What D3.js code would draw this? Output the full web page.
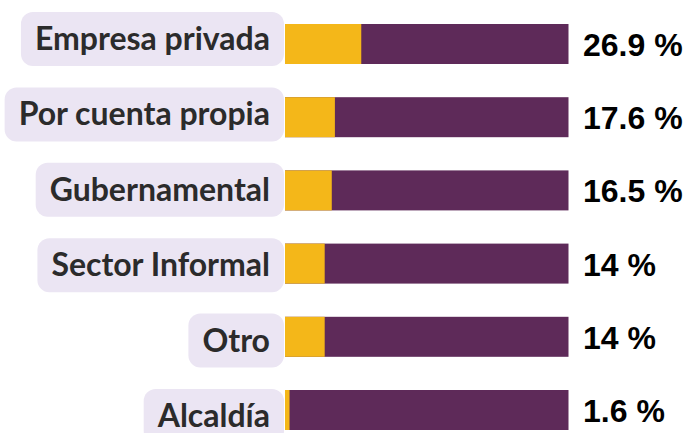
<!DOCTYPE html>
<html>
<head>
<meta charset="utf-8">
<script src="https://cdn.jsdelivr.net/npm/d3@7"></script>
<style>
  html, body { margin: 0; padding: 0; background: #ffffff; }
  svg { display: block; }
</style>
</head>
<body>
<div id="chart"></div>
<script>
// ---- data ----
const categories = ["Empresa privada", "Por cuenta propia", "Gubernamental", "Sector Informal", "Otro", "Alcaldía"];
const values = [26.9, 17.6, 16.5, 14, 14, 1.6];
const valueLabels = ["26.9 %", "17.6 %", "16.5 %", "14 %", "14 %", "1.6 %"];
const total = 100;

// ---- layout ----
const W = 688, H = 433;
const svg = d3.select("#chart").append("svg").attr("width", W).attr("height", H);

const x = d3.scaleLinear().domain([0, total]).range([285, 568.5]);
const y = d3.scaleBand().domain(categories).range([24, 430]).paddingInner(0.4536).paddingOuter(0);
const yLab = d3.scaleBand().domain(categories).range([12, 443]).paddingInner(0.284).paddingOuter(0);

const yellow = "#F4B719", purple = "#5E2A59", pill = "#EBE5F3", labelColor = "#2B2B2B";

const rows = svg.selectAll("g.row").data(categories).join("g").attr("class", "row");

// category label pills (drawn first so bars sit on top)
const labelRight = 270;
const pills = rows.append("rect").attr("class", "pill");
const labels = rows.append("text")
  .attr("x", labelRight)
  .attr("y", d => yLab(d) + 38)
  .attr("text-anchor", "end")
  .attr("font-family", "Lato, 'Noto Sans', sans-serif")
  .attr("font-weight", 700)
  .attr("font-size", 32)
  .attr("fill", labelColor)
  .text(d => d);

labels.each(function(d) {
  const w = this.getComputedTextLength();
  d3.select(this.parentNode).select("rect.pill")
    .attr("x", labelRight - w - 14)
    .attr("y", yLab(d))
    .attr("width", w + 14 + 14)
    .attr("height", yLab.bandwidth())
    .attr("rx", 12)
    .attr("fill", pill);
});

// bars: full (purple) then share (yellow)
rows.append("rect")
  .attr("x", x(0))
  .attr("y", d => y(d))
  .attr("width", x(total) - x(0))
  .attr("height", y.bandwidth())
  .attr("fill", purple);

rows.append("rect")
  .attr("x", x(0))
  .attr("y", d => y(d))
  .attr("width", (d, i) => x(values[i]) - x(0))
  .attr("height", y.bandwidth())
  .attr("fill", yellow);

// value labels
rows.append("text")
  .attr("x", 583)
  .attr("y", d => y(d) + y.bandwidth() / 2 + 12)
  .attr("font-family", "'Liberation Sans', Arial, sans-serif")
  .attr("font-weight", 700)
  .attr("font-size", 32)
  .attr("fill", "#000")
  .text((d, i) => valueLabels[i]);
</script>
</body>
</html>
